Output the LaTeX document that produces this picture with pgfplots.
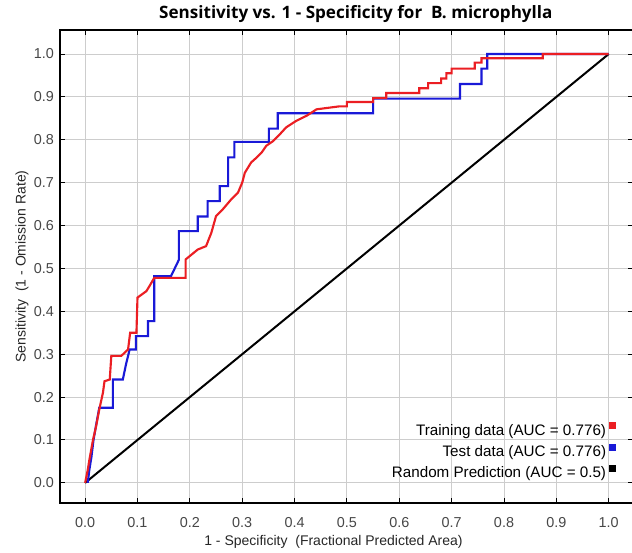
\documentclass[border=0pt]{standalone}
\usepackage{fontspec}
\setmainfont{Liberation Sans}
\newfontfamily\titlefont{Open Sans}
\usepackage{pgfplots}
\pgfplotsset{compat=1.18}
\definecolor{trainred}{RGB}{235,30,35}
\definecolor{testblue}{RGB}{25,25,215}
\definecolor{gridgray}{RGB}{205,205,205}
\begin{document}
\begin{tikzpicture}
\begin{axis}[
  scale only axis,
  width=430pt, height=354.75pt,
  xmin=-0.048, xmax=1.047, ymin=-0.047, ymax=1.056,
  xtick={0,0.1,0.2,0.3,0.4,0.5,0.6,0.7,0.8,0.9,1.0},
  ytick={0,0.1,0.2,0.3,0.4,0.5,0.6,0.7,0.8,0.9,1.0},
  /pgf/number format/fixed,
  /pgf/number format/fixed zerofill,
  /pgf/number format/precision=1,
  /pgf/number format/assume math mode=true,
  grid=major,
  grid style={draw=gridgray, line width=0.75pt},
  tick align=inside,
  major tick length=4pt,
  tick style={black, line width=0.75pt},
  axis line style={black, line width=1pt},
  ticklabel style={font=\fontsize{10.8}{12}\selectfont, text=black!72},
  xticklabel style={yshift=-7.5pt},
  yticklabel style={xshift=-1pt},
  xlabel={1 - Specificity\ \ (Fractional Predicted Area)},
  ylabel={Sensitivity\ \ (1 - Omission Rate)},
  xlabel style={at={(rel axis cs:0.477,0)}, anchor=north, yshift=-21pt, font=\fontsize{10.5}{12}\selectfont, text=black!85},
  ylabel style={at={(rel axis cs:-0.0663,0.5)}, anchor=center, font=\fontsize{10.5}{12}\selectfont, text=black!85},
  title={\titlefont\bfseries Sensitivity vs. 1 - Specificity for\ \  B. microphylla},
  title style={at={(rel axis cs:0.516,1)}, anchor=base, yshift=2.5pt, font=\fontsize{12.8}{14}\selectfont},
  legend style={draw=none, fill=none, at={(rel axis cs:0.969,0.043)}, anchor=south east,
    font=\fontsize{11.4}{13}\selectfont, row sep=2.2pt, inner sep=0pt},
  legend cell align=right,
  legend plot pos=right,
  legend image code/.code={\fill (4pt,1.5pt) rectangle (8.5pt,6pt);},
]
\addplot[black, line width=1.5pt, forget plot] coordinates {(0,0) (1,1)};
\addplot[testblue, line width=1.6pt, forget plot] coordinates {
(0.005,0) (0.008,0.03) (0.012,0.06) (0.016,0.1) (0.021,0.135) (0.027,0.175)
(0.053,0.175) (0.053,0.241) (0.072,0.241) (0.078,0.276) (0.085,0.311)
(0.097,0.311) (0.097,0.342) (0.12,0.342) (0.12,0.377) (0.132,0.377)
(0.132,0.482) (0.164,0.482) (0.179,0.52) (0.179,0.587) (0.215,0.587)
(0.215,0.621) (0.234,0.621) (0.234,0.657) (0.257,0.657) (0.257,0.692)
(0.273,0.692) (0.273,0.759) (0.285,0.759) (0.285,0.795) (0.351,0.795)
(0.351,0.826) (0.368,0.826) (0.368,0.862) (0.55,0.862) (0.55,0.896)
(0.716,0.896) (0.716,0.93) (0.757,0.93) (0.757,0.966) (0.768,0.966)
(0.768,1.0) (1,1)};
\addplot[trainred, line width=1.6pt, forget plot] coordinates {
(0,0) (0.005,0.03) (0.008,0.053) (0.015,0.1) (0.021,0.132) (0.027,0.171)
(0.034,0.21) (0.037,0.237) (0.047,0.241) (0.05,0.296) (0.069,0.296)
(0.082,0.311) (0.086,0.35) (0.098,0.35) (0.1,0.432) (0.117,0.447)
(0.123,0.459) (0.132,0.478) (0.192,0.478) (0.192,0.521) (0.215,0.544)
(0.231,0.552) (0.241,0.583) (0.25,0.622) (0.263,0.638) (0.279,0.661)
(0.292,0.677) (0.30,0.70) (0.305,0.723) (0.317,0.747) (0.327,0.758)
(0.337,0.77) (0.346,0.786) (0.359,0.797) (0.372,0.813) (0.384,0.829)
(0.403,0.844) (0.423,0.856) (0.442,0.871) (0.486,0.878) (0.50,0.878)
(0.50,0.888) (0.55,0.888) (0.55,0.897) (0.575,0.897) (0.575,0.909)
(0.638,0.909) (0.638,0.92) (0.655,0.92) (0.655,0.932) (0.68,0.932)
(0.68,0.943) (0.69,0.943) (0.69,0.955) (0.70,0.955) (0.70,0.966)
(0.744,0.966) (0.744,0.98) (0.757,0.98) (0.757,0.99) (0.874,0.99)
(0.874,1.0) (1,1)};
\addlegendimage{trainred}
\addlegendentry{Training data (AUC = 0.776)}
\addlegendimage{testblue}
\addlegendentry{Test data (AUC = 0.776)}
\addlegendimage{black}
\addlegendentry{Random Prediction (AUC = 0.5)}
\end{axis}
\pgfresetboundingbox
\useasboundingbox ([shift={(-45pt,-37.5pt)}]current axis.south west) rectangle ([shift={(-1pt,22.5pt)}]current axis.north east);
\end{tikzpicture}
\end{document}
